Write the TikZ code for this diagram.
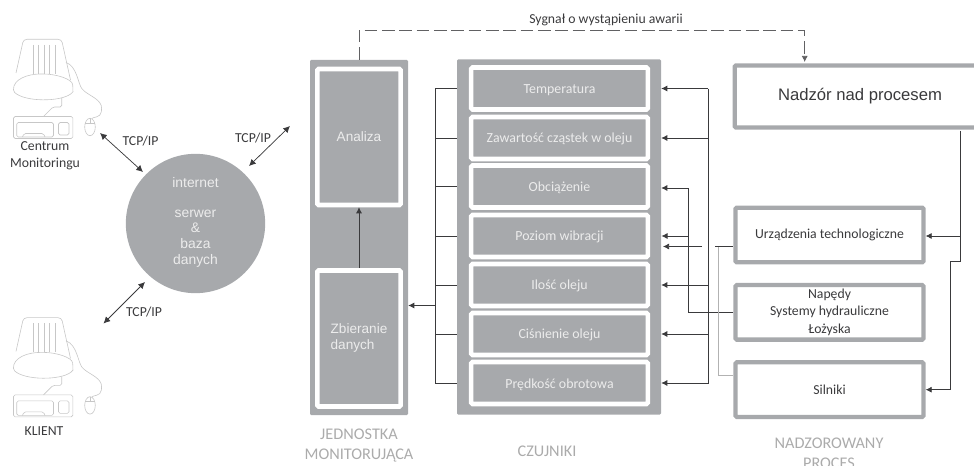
\documentclass[tikz,border=0pt]{standalone}
\usepackage{fontspec}
\setmainfont{Carlito}
\newfontfamily\arialfont{Liberation Sans}
\usetikzlibrary{arrows.meta}
\definecolor{szary}{HTML}{A7A9AC}
\definecolor{ciemny}{HTML}{3A3A3C}
\definecolor{jasny}{HTML}{ECECEC}
\definecolor{opis}{HTML}{ABABAB}
\tikzset{
	panel/.style={shape=rectangle,fill=szary,rounded corners=1pt,inner sep=0},
	ramka/.style={shape=rectangle,fill=szary,draw=white,line width=3.4pt,rounded corners=1pt,inner sep=0,text=jasny,font=\arialfont\fontsize{10.2}{11.7}\selectfont,align=center},
	czujnik/.style={ramka,minimum width=132.5pt,minimum height=31.5pt,text height=7.5pt,text depth=0pt,font=\fontsize{10.4}{11}\selectfont},
	proces/.style={shape=rectangle,fill=white,draw=szary,line width=3.2pt,rounded corners=1pt,inner sep=0,minimum width=141pt,minimum height=41pt,text=ciemny,font=\fontsize{10.3}{13}\selectfont,align=center},
	opis/.style={text=ciemny,font=\fontsize{10.3}{13}\selectfont,align=center,inner sep=0},
	grupa/.style={text=opis,font=\fontsize{12.2}{14.8}\selectfont,align=center,inner sep=0},
	linia/.style={draw=ciemny,line width=0.55pt},
	strzalka/.style={linia,-{Latex[length=4.5pt,width=4.5pt]}},
	dwustronna/.style={linia,{Latex[length=5pt,width=5pt]}-{Latex[length=5pt,width=5pt]}},
	szkic/.style={draw=black!22,line width=0.45pt,rounded corners=1.2pt},
	komputer/.pic={
		% monitor
		\draw[szkic,rounded corners=2.5pt] (16,73) -- (23.5,39.3) -- (61.5,39.3) -- (70.5,80);
		\draw[szkic] (13.5,91.5) .. controls (13,79) and (28,74) .. (42,74) .. controls (56,74) and (72,79) .. (72.8,86) .. controls (73,90) and (72.8,92) .. (72,93) .. controls (60,102) and (25,102) .. (13.5,91.5) -- cycle;
		\foreach \x in {33,38.5,44,49.5,55} {
			\draw[szkic] (\x,45) -- (\x,74);
		}
		% stand
		\draw[szkic] (61.7,98) -- (61.7,107) -- (53,107) -- (43.5,116.5);
		% case
		\draw[szkic] (13.5,116.5) rectangle (72.8,138.5);
		\draw[szkic] (16.7,122.5) rectangle (53.5,137);
		\draw[szkic] (58.5,122.5) rectangle (69,135);
		\draw[szkic] (22.5,137) -- (24,133.5) -- (43.5,133.5) -- (45,137);
		% cable and mouse
		\draw[szkic] (66,62.5) .. controls (77,66) and (78,84) .. (83,90) .. controls (90,96) and (102,100) .. (101.5,110) .. controls (101,118) and (92,117) .. (92,118.5);
		\draw[szkic] (90,127) ellipse (5.3 and 8.7);
		\draw[szkic] (85,123) -- (95,123);
		\draw[szkic] (90,118.5) -- (90,124);
	}
}
\begin{document}
\begin{tikzpicture}[x=0.75pt,y=-0.75pt]
	\useasboundingbox (0,0) rectangle (974,466);

	% computers on the left
	\pic at (0,0) {komputer};
	\pic at (0,278.4) {komputer};
	\node[opis] (centrum) at (45,156) {Centrum\\Monitoringu};
	\node[opis] (klient) at (44,431.5) {KLIENT};

	% server circle
	\node[shape=circle,fill=szary,minimum size=104.5pt,inner sep=0] (serwer) at (195.5,223.5) {};
	\node[text=jasny,font=\arialfont\fontsize{10.4}{11.7}\selectfont,align=center,inner sep=0] (serwertekst) at (195.5,222) {internet\\[11pt]serwer\\\&\\baza\\danych};

	% monitoring unit
	\node[panel,minimum width=73.5pt,minimum height=266.5pt] (jednostka) at (359,237.5) {};
	\node[ramka,minimum width=62.5pt,minimum height=102pt] (analiza) at (359,137) {Analiza};
	\node[ramka,minimum width=62.5pt,minimum height=102pt] (zbieranie) at (359,338.5) {\begin{tabular}{@{}l@{}}Zbieranie\\danych\end{tabular}};

	% sensors
	\node[panel,minimum width=153pt,minimum height=266.5pt] (czujniki) at (559,237) {};
	\foreach \mynode/\mytext/\y in {temp/Temperatura/88.5,czastki/Zawartość cząstek w oleju/138,obciazenie/Obciążenie/186.5,wibracje/Poziom wibracji/236,ilosc/Ilość oleju/285,cisnienie/Ciśnienie oleju/334,predkosc/Prędkość obrotowa/383} {
		\node[czujnik] (\mynode) at (559.5,\y) {\mytext};
	}

	% process boxes
	\node[proces,minimum width=188pt,minimum height=46.5pt] (nadzor) at (860,96.5) {\arialfont\fontsize{12.5}{14}\selectfont Nadzór nad procesem};
	\node[proces] (urzadzenia) at (829.5,235) {Urządzenia technologiczne};
	\node[proces] (napedy) at (829.5,312.3) {Napędy\\Systemy hydrauliczne\\Łożyska};
	\node[proces] (silniki) at (829.5,389.7) {Silniki};

	% group captions
	\node[grupa,font=\fontsize{12.2}{15}\selectfont] (opisjednostka) at (359,446) {JEDNOSTKA\\MONITORUJĄCA};
	\node[grupa] (opisczujniki) at (547,451) {CZUJNIKI};
	\node[grupa] (opisproces) at (829,453.5) {NADZOROWANY\\PROCES};

	% TCP/IP links
	\coordinate (c1) at (100,133);
	\coordinate (s1) at (143,172);
	\coordinate (s2) at (249,166);
	\coordinate (c2) at (290,126);
	\coordinate (s3) at (145,282);
	\coordinate (c3) at (103.5,323.5);
	\draw[dwustronna] (c1) to (s1);
	\draw[dwustronna] (s2) to (c2);
	\draw[dwustronna] (s3) to (c3);
	\foreach \myname/\myx/\myy in {tcpa/140.5/141,tcpb/253/138.5,tcpc/144/312} {
		\node[opis] (\myname) at (\myx,\myy) {TCP/IP};
	}

	% failure signal
	\draw[strzalka,draw=ciemny!80,dash pattern=on 9.5pt off 3.5pt] (jednostka.north) -- (359,30.5) -| (804.7,62);
	\node[opis] (sygnal) at (606,20) {Sygnał o wystąpieniu awarii};

	% data collection
	\draw[strzalka] (zbieranie.north) to (analiza.south);
	\coordinate (zbior) at (435.7,305.5);
	\draw[linia] (temp -| czujniki.west) -- (temp -| zbior) -- (predkosc -| zbior) -- (predkosc -| czujniki.west);
	\foreach \mynode in {czastki,obciazenie,wibracje,ilosc,cisnienie} {
		\draw[linia] (\mynode -| czujniki.west) to (\mynode -| zbior);
	}
	\draw[strzalka] (zbior) to (zbior -| jednostka.east);

	% process to sensors
	\coordinate (szynaa) at (708,89);
	\coordinate (szynab) at (688,188);
	\coordinate (szynac) at (718.5,246);
	\draw[linia] (szynaa) -- (708,384);
	\foreach \mynode in {temp,czastki,ilosc,cisnienie,predkosc} {
		\draw[strzalka] (\mynode -| szynaa) to (\mynode -| czujniki.east);
	}
	\draw[linia] (napedy.west) -| (szynab);
	\draw[strzalka] (szynab) to (szynab -| czujniki.east);
	\draw[strzalka] (688,236) to (661.5,236);
	\draw[linia,draw=black!30] (szynac) -- (718.5,375) -- (733,375);
	\draw[linia] (715,246) -- (733,246);
	\draw[strzalka] (702,246.5) to (663,246.5);

	% supervision to process
	\coordinate (nadzorwyj) at (960.7,131);
	\coordinate (rozgalezienie) at (960.7,236);
	\draw[strzalka] (nadzorwyj) -- (rozgalezienie) -- (urzadzenia.east |- rozgalezienie);
	\draw[strzalka] (rozgalezienie) -- (960.7,261) -- (950,261) -- (950,389.7) -- (silniki.east);
\end{tikzpicture}
\end{document}
